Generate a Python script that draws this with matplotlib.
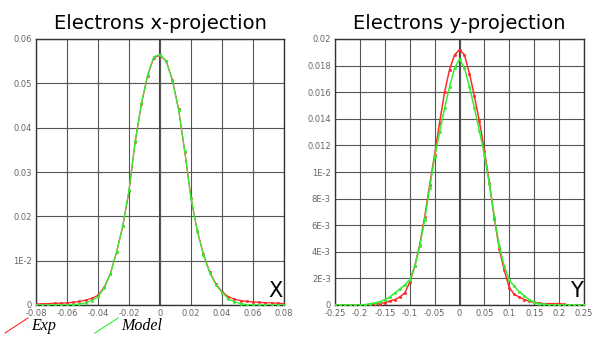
import matplotlib
matplotlib.use('Agg')
import matplotlib.pyplot as plt
from matplotlib.lines import Line2D

# x-projection data
xp_x = [-0.080, -0.076, -0.072, -0.068, -0.064, -0.060, -0.056, -0.052, -0.048, -0.044,
        -0.040, -0.036, -0.032, -0.028, -0.024, -0.020, -0.016, -0.012, -0.008, -0.004,
        0.000, 0.004, 0.008, 0.012, 0.016, 0.020, 0.024, 0.028, 0.032, 0.036,
        0.040, 0.044, 0.048, 0.052, 0.056, 0.060, 0.064, 0.068, 0.072, 0.076, 0.080]
xp_exp = [0.0002, 0.0003, 0.0003, 0.0004, 0.0004, 0.0005, 0.0006, 0.0008, 0.0011, 0.0015,
          0.0022, 0.0040, 0.0071, 0.0120, 0.0178, 0.0257, 0.0368, 0.0453, 0.0517, 0.0558,
          0.0563, 0.0550, 0.0508, 0.0442, 0.0345, 0.0242, 0.0168, 0.0115, 0.0075, 0.0048,
          0.0030, 0.0019, 0.0013, 0.0010, 0.0008, 0.0007, 0.0006, 0.0005, 0.0005, 0.0004, 0.0003]
xp_model = [0.0, 0.0, 0.0, 0.0, 0.0, 0.0, 0.0001, 0.0002, 0.0005, 0.0010,
            0.0019, 0.0038, 0.0070, 0.0119, 0.0179, 0.0259, 0.0370, 0.0455, 0.0519, 0.0560,
            0.0565, 0.0551, 0.0506, 0.0440, 0.0347, 0.0240, 0.0168, 0.0113, 0.0073, 0.0046,
            0.0028, 0.0014, 0.0007, 0.0003, 0.0001, 0.0, 0.0, 0.0, 0.0, 0.0, 0.0]

# y-projection data
yp_x = [-0.25, -0.24, -0.23, -0.22, -0.21, -0.20, -0.19, -0.18, -0.17, -0.16,
        -0.15, -0.14, -0.13, -0.12, -0.11, -0.10, -0.09, -0.08, -0.07, -0.06,
        -0.05, -0.04, -0.03, -0.02, -0.01, 0.00, 0.01, 0.02, 0.03, 0.04,
        0.05, 0.06, 0.07, 0.08, 0.09, 0.10, 0.11, 0.12, 0.13, 0.14,
        0.15, 0.16, 0.17, 0.18, 0.19, 0.20, 0.21, 0.22, 0.23, 0.24, 0.25]
yp_exp = [0, 0, 0, 0, 0, 0, 0, 0, 0.00005, 0.0001,
          0.00018, 0.0003, 0.0004, 0.0006, 0.0009, 0.0017, 0.0029, 0.0045, 0.0066, 0.0090,
          0.0113, 0.0137, 0.0160, 0.0177, 0.0188, 0.0192, 0.0188, 0.0174, 0.0157, 0.0138,
          0.0116, 0.0092, 0.0065, 0.0042, 0.0026, 0.0013, 0.0008, 0.0006, 0.0004, 0.0003,
          0.0002, 0.00015, 0.0001, 0.0001, 0.0001, 0.0001, 0.00005, 0, 0, 0, 0]
yp_model = [0, 0, 0, 0, 0, 0, 0.00003, 0.0001, 0.00015, 0.00025,
            0.0004, 0.0006, 0.0009, 0.0012, 0.0015, 0.0019, 0.0029, 0.0044, 0.0064, 0.0088,
            0.0111, 0.0130, 0.0148, 0.0164, 0.0178, 0.0185, 0.0178, 0.0164, 0.0148, 0.0131,
            0.0113, 0.0091, 0.0066, 0.0044, 0.0029, 0.0019, 0.0014, 0.0010, 0.0007, 0.0004,
            0.0002, 0.0001, 0.00005, 0, 0, 0, 0, 0, 0, 0, 0]

xp_xticks = [-0.08, -0.06, -0.04, -0.02, 0, 0.02, 0.04, 0.06, 0.08]
xp_xlabels = ['-0.08', '-0.06', '-0.04', '-0.02', '0', '0.02', '0.04', '0.06', '0.08']
xp_yticks = [0, 0.01, 0.02, 0.03, 0.04, 0.05, 0.06]
xp_ylabels = ['0', '1E-2', '0.02', '0.03', '0.04', '0.05', '0.06']

yp_xticks = [-0.25, -0.2, -0.15, -0.1, -0.05, 0, 0.05, 0.1, 0.15, 0.2, 0.25]
yp_xlabels = ['-0.25', '-0.2', '-0.15', '-0.1', '-0.05', '0', '0.05', '0.1', '0.15', '0.2', '0.25']
yp_yticks = [0, 0.002, 0.004, 0.006, 0.008, 0.010, 0.012, 0.014, 0.016, 0.018, 0.020]
yp_ylabels = ['0', '2E-3', '4E-3', '6E-3', '8E-3', '1E-2', '0.012', '0.014', '0.016', '0.018', '0.02']

RED = '#ff2a2a'
GREEN = '#33ee33'
GRID = '#555555'

fig = plt.figure(figsize=(5.94, 3.38), dpi=100)
ax1 = fig.add_axes([36/594, 33/338, 248/594, 266/338])
ax2 = fig.add_axes([335/594, 33/338, 249/594, 266/338])


def style(ax, xt, xl, yt, yl, title, letter):
    ax.set_xticks(xt)
    ax.set_xticklabels(xl)
    ax.set_yticks(yt)
    ax.set_yticklabels(yl)
    ax.set_xlim(xt[0], xt[-1])
    ax.set_ylim(yt[0], yt[-1])
    ax.tick_params(length=0, labelsize=6, labelcolor='#666666', pad=3)
    ax.grid(True, color=GRID, lw=0.8)
    ax.axvline(0, color='#444444', lw=1.5, zorder=1)
    for s in ax.spines.values():
        s.set_color('#333333')
        s.set_linewidth(1.0)
    ax.set_title(title, fontsize=14, pad=7)
    ax.text(0.995, 0.015, letter, transform=ax.transAxes, ha='right', va='bottom',
            fontsize=15)


ax1.plot(xp_x, xp_exp, color=RED, lw=0.9, marker='s', ms=1.0, zorder=3)
ax1.plot(xp_x, xp_model, color=GREEN, lw=0.9, marker='s', ms=1.0, zorder=4)
style(ax1, xp_xticks, xp_xlabels, xp_yticks, xp_ylabels, 'Electrons x-projection', 'X')

ax2.plot(yp_x, yp_exp, color=RED, lw=1.1, marker='s', ms=1.0, zorder=3)
ax2.plot(yp_x, yp_model, color=GREEN, lw=1.1, marker='s', ms=1.0, zorder=4)
style(ax2, yp_xticks, yp_xlabels, yp_yticks, yp_ylabels, 'Electrons y-projection', 'Y')

# legend below left plot
fig.add_artist(Line2D([5/594, 28/594], [5/338, 20/338], color=RED, lw=0.8))
fig.text(31/594, 8/338, 'Exp', family='Liberation Serif', style='italic', fontsize=11.5,
         va='baseline')
fig.add_artist(Line2D([95/594, 118/594], [5/338, 20/338], color=GREEN, lw=0.8))
fig.text(121/594, 8/338, 'Model', family='Liberation Serif', style='italic', fontsize=11.5,
         va='baseline')

fig.savefig('out.png', dpi=100)
